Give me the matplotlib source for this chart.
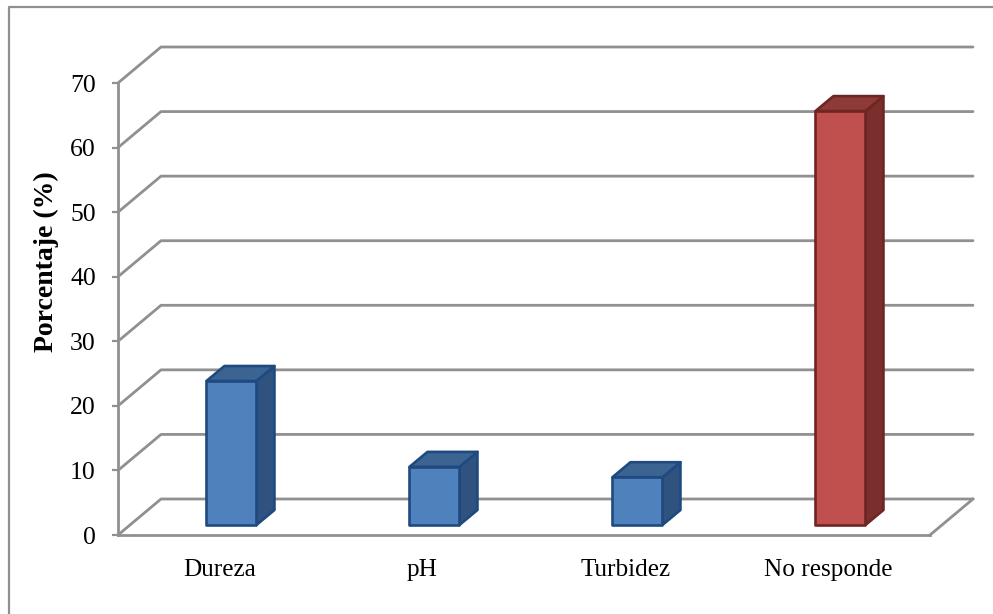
import matplotlib
matplotlib.use("Agg")
import matplotlib.pyplot as plt
from matplotlib.lines import Line2D
from matplotlib.patches import Polygon

categories = ["Dureza", "pH", "Turbidez", "No responde"]
values = [22.3, 9.0, 7.4, 64.1]
yticks = [0, 10, 20, 30, 40, 50, 60, 70]

W, H = 993, 614
LEFT, RIGHT, BOTTOM, TOP = 118, 930, 535, 83
GREY = "#909090"
# oblique offset of the back wall, in data units
PX_X = (RIGHT - LEFT) / 4
PX_Y = (BOTTOM - TOP) / 70
WALL_DX, WALL_DY = 43 / PX_X, 36 / PX_Y
BAR_W = 50 / PX_X
BAR_DX, BAR_DY = 18 / PX_X, 15 / PX_Y
BAR_D0 = 10 / 36  # how far back the bar front stands on the floor

BLUE = dict(front="#4f81bd", top="#3b6493", side="#30527e", edge="#1f4a80")
RED = dict(front="#c0504d", top="#8e3a38", side="#7a2f2d", edge="#6e2624")
bar_colors = [BLUE, BLUE, BLUE, RED]

plt.rcParams["font.family"] = ["Liberation Serif", "DejaVu Serif"]

fig = plt.figure(figsize=(W / 100, H / 100), dpi=100)
ax = fig.add_axes([LEFT / W, 1 - BOTTOM / H, (RIGHT - LEFT) / W, (BOTTOM - TOP) / H])
ax.set_xlim(0, 4)
ax.set_ylim(0, 70)

# outer chart frame, runs off the right and bottom of the image
fig.add_artist(Line2D([9 / W, 9 / W, 1], [0, 1 - 7 / H, 1 - 7 / H], color=GREY, lw=1.6))

for side in ("top", "right"):
    ax.spines[side].set_visible(False)
for side in ("left", "bottom"):
    ax.spines[side].set_color(GREY)
    ax.spines[side].set_linewidth(2.0)

# gridlines on the back wall plus the slanted side wall
for v in yticks:
    ax.plot([0, WALL_DX, 4 + WALL_DX], [v, v + WALL_DY, v + WALL_DY],
            color=GREY, lw=2.0, clip_on=False, zorder=1, solid_capstyle="round")
ax.plot([4, 4 + WALL_DX], [0, WALL_DY], color=GREY, lw=2.0, clip_on=False, zorder=1)

for i, (val, col) in enumerate(zip(values, bar_colors)):
    x0 = i + 0.5 - BAR_W / 2 + BAR_D0 * WALL_DX
    x1 = x0 + BAR_W
    y0 = BAR_D0 * WALL_DY
    y1 = y0 + val
    faces = [
        ("side", [(x1, y0), (x1 + BAR_DX, y0 + BAR_DY), (x1 + BAR_DX, y1 + BAR_DY), (x1, y1)]),
        ("top", [(x0, y1), (x1, y1), (x1 + BAR_DX, y1 + BAR_DY), (x0 + BAR_DX, y1 + BAR_DY)]),
        ("front", [(x0, y0), (x1, y0), (x1, y1), (x0, y1)]),
    ]
    for name, pts in faces:
        ax.add_patch(Polygon(pts, closed=True, facecolor=col[name], edgecolor=col["edge"],
                             lw=1.9, joinstyle="round", clip_on=False, zorder=3))

ax.set_xticks([i + 0.5 for i in range(4)], categories, fontsize=18.2)
ax.set_yticks(yticks, [str(v) for v in yticks], fontsize=18.5)
ax.tick_params(axis="x", length=0, pad=17)
ax.tick_params(axis="y", length=4, width=1.6, color=GREY, pad=12)
ax.set_ylabel("Porcentaje (%)", fontsize=20, fontweight="bold", y=0.604, labelpad=8)

fig.savefig("out.png", dpi=100)
